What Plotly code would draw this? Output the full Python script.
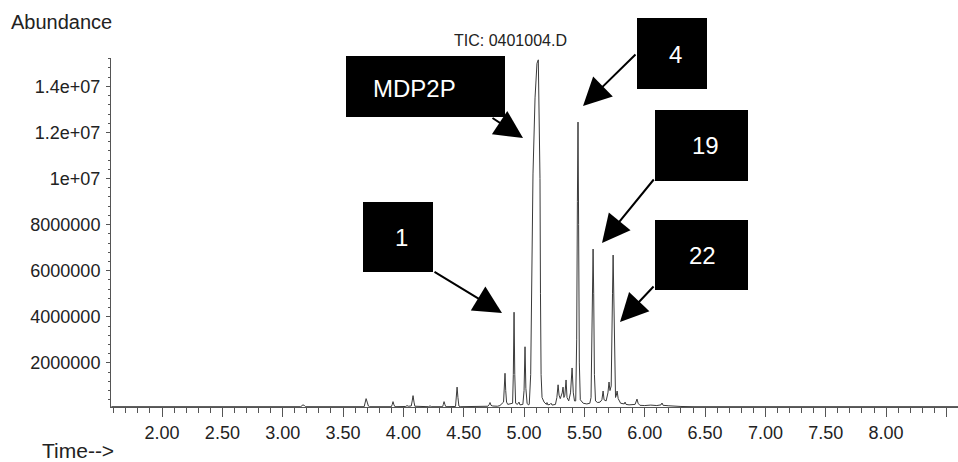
import plotly.graph_objects as go

# Retention time (min) and abundance
time_min = [
    1.58, 3.15, 3.16, 3.168, 3.18, 3.19,
    3.675, 3.685, 3.691, 3.70, 3.71, 3.72,
    3.90, 3.908, 3.914, 3.922, 3.93,
    4.02, 4.030, 4.04, 4.065, 4.073, 4.080, 4.088, 4.095,
    4.21, 4.221, 4.23,
    4.325, 4.331, 4.337, 4.345, 4.352,
    4.432, 4.440, 4.445, 4.452, 4.46, 4.47,
    4.60, 4.62, 4.64, 4.70, 4.712, 4.718, 4.726, 4.74,
    4.78, 4.80, 4.83, 4.836, 4.842, 4.848, 4.855, 4.865,
    4.905, 4.911, 4.917, 4.923, 4.93, 4.945, 4.958, 4.966,
    4.99, 5.000, 5.008, 5.015, 5.025, 5.035, 5.043,
    5.055, 5.066, 5.074, 5.091, 5.107, 5.118, 5.126, 5.132, 5.136, 5.141, 5.149, 5.166,
    5.185, 5.190, 5.197, 5.215, 5.224, 5.232,
    5.26, 5.272, 5.282, 5.29, 5.30, 5.316, 5.323, 5.33, 5.338, 5.348, 5.356,
    5.37, 5.385, 5.398, 5.408, 5.418, 5.428,
    5.436, 5.442, 5.447, 5.452, 5.458, 5.466,
    5.49, 5.52, 5.545, 5.555, 5.562, 5.567, 5.572, 5.577, 5.583, 5.592,
    5.61, 5.63, 5.645, 5.655, 5.663, 5.68, 5.695, 5.704, 5.712,
    5.722, 5.728, 5.733, 5.738, 5.743, 5.75, 5.758, 5.765, 5.771, 5.78,
    5.80, 5.83, 5.837, 5.845, 5.87, 5.92, 5.929, 5.936, 5.945, 5.96,
    6.00, 6.05, 6.10, 6.135, 6.143, 6.152, 6.20, 6.25, 6.30, 6.40, 8.60,
]
abundance = [
    100000, 100000, 150000, 180000, 150000, 100000,
    100000, 300000, 450000, 300000, 130000, 100000,
    100000, 200000, 320000, 180000, 100000,
    110000, 150000, 120000, 130000, 350000, 580000, 300000, 120000,
    100000, 140000, 100000,
    100000, 200000, 320000, 180000, 100000,
    110000, 550000, 950000, 500000, 130000, 100000,
    110000, 140000, 110000, 120000, 200000, 280000, 160000, 130000,
    120000, 150000, 300000, 800000, 1550000, 800000, 300000, 200000,
    250000, 1500000, 4200000, 1500000, 250000, 200000, 300000, 180000,
    200000, 800000, 2700000, 900000, 250000, 180000, 200000,
    1500000, 7500000, 10200000, 13500000, 15000000, 15150000, 13000000, 10000000, 5000000, 1500000, 500000, 300000,
    200000, 280000, 180000, 200000, 250000, 170000,
    200000, 500000, 1050000, 600000, 450000, 700000, 950000, 500000, 600000, 1260000, 500000,
    350000, 700000, 1780000, 700000, 350000, 350000,
    3000000, 9000000, 12450000, 8000000, 2000000, 400000,
    250000, 220000, 250000, 500000, 2500000, 5500000, 6940000, 5000000, 1500000, 350000,
    280000, 300000, 400000, 780000, 400000, 350000, 700000, 1170000, 800000,
    1000000, 2500000, 5000000, 6680000, 5000000, 1500000, 500000, 600000, 780000, 450000,
    250000, 220000, 300000, 200000, 180000, 200000, 300000, 430000, 250000, 160000,
    150000, 170000, 150000, 180000, 260000, 160000, 140000, 120000, 110000, 100000, 100000,
]

x_major = [2.0, 2.5, 3.0, 3.5, 4.0, 4.5, 5.0, 5.5, 6.0, 6.5, 7.0, 7.5, 8.0, 8.5]
x_major_text = ["2.00", "2.50", "3.00", "3.50", "4.00", "4.50", "5.00", "5.50",
                "6.00", "6.50", "7.00", "7.50", "8.00", ""]
y_major = [2000000, 4000000, 6000000, 8000000, 10000000, 12000000, 14000000]
y_major_text = ["2000000", "4000000", "6000000", "8000000", "1e+07", "1.2e+07", "1.4e+07"]

labels = ["MDP2P", "1", "4", "19", "22"]

W, H = 958, 462
L, R, T, B = 111, 0, 58, 55
PW, PH = W - L - R, H - T - B


def px(x):
    return (x - L) / PW


def py(y):
    return (H - B - y) / PH


FONT = "Liberation Sans, Arial, Helvetica, sans-serif"
AX = "#555555"

fig = go.Figure()
fig.add_trace(go.Scatter(x=time_min, y=abundance, mode="lines",
                         line=dict(color="#3a3a3a", width=1), hoverinfo="skip"))

# boxes: (label, x0, y0, x1, y1, text_x, text_y) in pixels
boxes = [
    (labels[0], 346, 56, 505, 117, 414, 88),
    (labels[1], 363, 202, 433, 272, 401, 237),
    (labels[2], 637, 18, 707, 89, 675, 54),
    (labels[3], 655, 110, 748, 181, 705, 145),
    (labels[4], 655, 220, 748, 290, 702, 255),
]
# arrows: tail -> tip in pixels
arrows = [
    (491, 117, 523, 138),
    (433, 271, 502, 313),
    (637, 53, 583, 106),
    (655, 178, 602, 243),
    (655, 285, 620, 322),
]

shapes = []
annotations = []
for lab, x0, y0, x1, y1, tx, ty in boxes:
    shapes.append(dict(type="rect", xref="paper", yref="paper",
                       x0=px(x0), x1=px(x1), y0=py(y1), y1=py(y0),
                       fillcolor="black", line=dict(width=0), layer="above"))
    annotations.append(dict(text=lab, xref="paper", yref="paper", x=px(tx), y=py(ty),
                            showarrow=False, xanchor="center", yanchor="middle",
                            font=dict(family=FONT, size=24, color="white")))
for tx0, ty0, hx, hy in arrows:
    annotations.append(dict(text="", xref="paper", yref="paper", x=px(hx), y=py(hy),
                            ax=tx0 - hx, ay=ty0 - hy, showarrow=True,
                            arrowhead=2, arrowsize=2.8, arrowwidth=2, arrowcolor="black"))

annotations += [
    dict(text="Abundance", xref="paper", yref="paper", x=px(9), y=py(22),
         xanchor="left", yanchor="middle", showarrow=False,
         font=dict(family=FONT, size=20, color="#222")),
    dict(text="Time-->", xref="paper", yref="paper", x=px(40), y=py(450),
         xanchor="left", yanchor="middle", showarrow=False,
         font=dict(family=FONT, size=21, color="#222")),
    dict(text="TIC: 0401004.D", xref="paper", yref="paper", x=px(510), y=py(40),
         xanchor="center", yanchor="middle", showarrow=False,
         font=dict(family=FONT, size=16, color="#222")),
]

fig.update_layout(
    width=W, height=H,
    margin=dict(l=L, r=R, t=T, b=B),
    paper_bgcolor="white", plot_bgcolor="white",
    showlegend=False,
    shapes=shapes, annotations=annotations,
    xaxis=dict(range=[1.577, 8.596], showgrid=False, zeroline=False,
               showline=True, linecolor=AX, linewidth=1,
               tickmode="array", tickvals=x_major, ticktext=x_major_text,
               ticks="outside", ticklen=9, tickcolor=AX, tickwidth=1,
               minor=dict(tickmode="linear", tick0=0, dtick=0.1, ticks="outside",
                          ticklen=5, tickcolor=AX, tickwidth=1),
               tickfont=dict(family=FONT, size=18, color="#222"),
               ticklabelstandoff=0),
    yaxis=dict(range=[87000, 15230000], showgrid=False, zeroline=False,
               showline=True, linecolor=AX, linewidth=1,
               tickmode="array", tickvals=y_major, ticktext=y_major_text,
               ticks="outside", ticklen=4, tickcolor=AX, tickwidth=1,
               minor=dict(tickmode="linear", tick0=0, dtick=400000, ticks="outside",
                          ticklen=2, tickcolor=AX, tickwidth=1),
               tickfont=dict(family=FONT, size=18, color="#222"),
               ticklabelstandoff=2),
)

fig.write_html("out.html", config={"displayModeBar": False, "staticPlot": True},
               post_script="document.body.style.margin='0';document.body.style.overflow='hidden';")
